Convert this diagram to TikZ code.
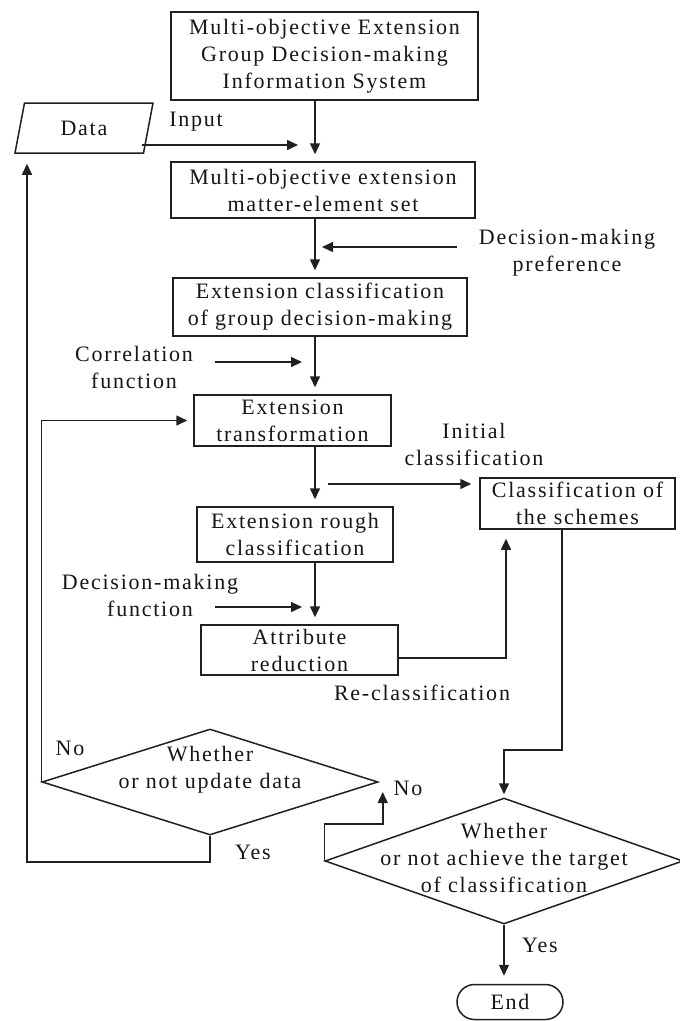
\documentclass[tikz,border=0pt]{standalone}
\usepackage{fontspec}
\setmainfont{Liberation Serif}[LetterSpace=8]
\usetikzlibrary{arrows.meta,calc,shapes.geometric,shapes.misc}
\definecolor{ink} {HTML}{161616}
\definecolor{wire}{HTML}{202020}

\begin{document}
\begin{tikzpicture}[
  x=1pt, y=-1pt,
  every node/.style={font=\fontsize{22}{27}\selectfont, text=ink},
  blk/.style={rectangle, draw=wire, line width=1.5pt, align=center, inner sep=0pt},
  io/.style={trapezium, trapezium left angle=57, trapezium right angle=123,
             trapezium stretches body, draw=wire, line width=1.5pt,
             minimum width=138pt, minimum height=50pt, inner sep=0pt},
  dec/.style={diamond, draw=wire, line width=1.5pt, inner sep=0pt},
  txt/.style={align=center, inner sep=2pt},
  term/.style={rounded rectangle, draw=wire, line width=1.5pt,
               minimum width=106pt, minimum height=35pt, inner sep=0pt},
  arr/.style={-{Triangle[length=11pt,width=10pt]}, draw=wire, line width=1.5pt}
]
\useasboundingbox (0,0) rectangle (680,1021);
\fill[white] (0,0) rectangle (680,1021);

% main column
\node[blk, minimum width=307pt, minimum height=88pt] (sys) at (324.5,56)
  {Multi-objective Extension\\Group Decision-making\\Information System};
\node[io] (data) at (84,128) {Data};
\node[blk, minimum width=304pt, minimum height=56pt] (set) at (323,190)
  {Multi-objective extension\\matter-element set};
\node[blk, minimum width=294pt, minimum height=58pt] (cls) at (320,307)
  {Extension classification\\of group decision-making};
\node[blk, minimum width=197pt, minimum height=51pt] (trans) at (292.5,420.5)
  {Extension\\transformation};
\node[blk, minimum width=195pt, minimum height=51pt] (scheme) at (577.5,503.5)
  {Classification of\\the schemes};
\node[blk, minimum width=196pt, minimum height=55pt] (rough) at (295,534.5)
  {Extension rough\\classification};
\node[blk, minimum width=197pt, minimum height=50pt] (attr) at (299.5,650)
  {Attribute\\reduction};

% decisions
\node[dec, minimum width=336pt, minimum height=106pt] (upd) at (210,782) {};
\node[txt] (updtxt) at (210,770) {Whether\\or not update data};
\node[dec, minimum width=358pt, minimum height=126pt] (ach) at (504,861) {};
\node[txt] (achtxt) at (504,858) {Whether\\or not achieve the target\\of classification};
\node[term] (fin) at (510,1002) {End};

% labels
\node[txt] (inlbl) at (196,122) {Input};
\node[txt] (pref) at (567,253) {Decision-making\\preference};
\node[txt] (corr) at (134,367) {Correlation\\function};
\node[txt] (init) at (474,444) {Initial\\classification};
\node[txt] (dmf) at (150,595) {Decision-making\\function};
\node[txt] (recl) at (422,693) {Re-classification};
\node[txt] (no1) at (70,748) {No};
\node[txt] (yes1) at (253,852) {Yes};
\node[txt] (no2) at (408,788) {No};
\node[txt] (yes2) at (540,945) {Yes};

% wiring
\coordinate (spine) at (315,0);
\coordinate (outer) at (27,0);
\coordinate (inS) at (142,145);  \coordinate (inE) at (298,145);
\coordinate (prS) at (457,247);  \coordinate (prE) at (322,247);
\coordinate (coS) at (215,362);  \coordinate (coE) at (302,362);
\coordinate (dmS) at (215,607);  \coordinate (dmE) at (302,607);
\coordinate (brS) at (328,484);

\foreach \a/\b in {sys/set,set/cls,cls/trans,trans/rough,rough/attr}
  {\draw[arr, shorten >=7pt] (\a.south -| spine) -- (\b.north -| spine);}
\foreach \s/\e in {inS/inE,prS/prE,coS/coE,dmS/dmE}
  {\draw[arr] (\s) -- (\e);}
\draw[arr, shorten >=8pt] (brS) -- (scheme.west |- brS);
\draw[arr, shorten >=9pt] ([yshift=-8pt]attr.east) -| ([xshift=-71.5pt]scheme.south);
\draw[arr, shorten >=3pt] ([xshift=-15.5pt]scheme.south) -- ++(0,220) -| (ach.north);
\draw[arr, shorten >=10pt] (ach.west) -- ++(0,-37) -| ([xshift=4pt]upd.east);
\draw[arr, shorten >=6pt] (upd.west) |- (trans.west);
\draw[arr, shorten >=10pt] (upd.south) -- ++(0,26) -| (data.south -| outer);
\draw[arr, shorten >=8pt] (ach.south) -- (ach.south |- fin.north);
\end{tikzpicture}
\end{document}
